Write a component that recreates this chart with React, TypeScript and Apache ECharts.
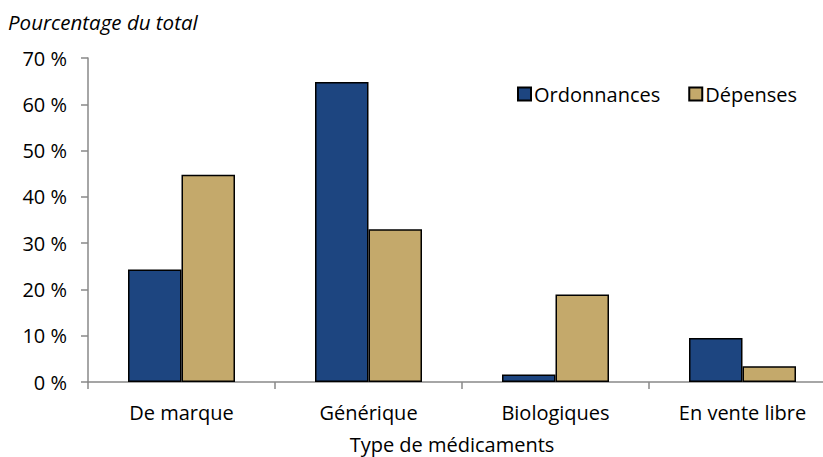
import React, { useEffect, useRef } from "react";
import * as echarts from "echarts";

const categories = ["De marque", "Générique", "Biologiques", "En vente libre"];
const ordonnances = [24.3, 64.8, 1.6, 9.5];
const depenses = [44.8, 33.0, 18.9, 3.4];
const seriesNames = ["Ordonnances", "Dépenses"];
const yTitle = "Pourcentage du total";
const xTitle = "Type de médicaments";

const FONT = "'Open Sans', 'Noto Sans', sans-serif";
const FS = 20;

export default function App() {
  const ref = useRef<HTMLDivElement>(null);
  useEffect(() => {
    if (!ref.current) return;
    const chart = echarts.init(ref.current, null, { renderer: "svg" });
    chart.setOption({
      animation: false,
      textStyle: { fontFamily: FONT },
      graphic: [
        {
          type: "text",
          x: 8,
          y: 22,
          style: {
            text: yTitle,
            font: `italic 20.5px ${FONT}`,
            fill: "#000",
            textAlign: "left",
            textVerticalAlign: "middle",
          },
        },
        {
          type: "text",
          x: 452,
          y: 444,
          style: {
            text: xTitle,
            font: `${FS}px ${FONT}`,
            fill: "#000",
            textAlign: "center",
            textVerticalAlign: "middle",
          },
        },
      ],
      legend: {
        left: 512,
        top: 79,
        itemWidth: 13,
        itemHeight: 13,
        itemGap: 28,
        icon: "rect",
        textStyle: { fontSize: FS, color: "#000", fontFamily: FONT, padding: [0, 0, 0, -2] },
        data: seriesNames,
      },
      grid: { left: 88, right: -13, top: 58, bottom: 75, outerBoundsMode: "none", containLabel: false },
      xAxis: {
        type: "category",
        data: categories,
        axisLine: { lineStyle: { color: "#888", width: 1.5 } },
        axisTick: { show: true, length: 7, lineStyle: { color: "#888", width: 1.5 } },
        axisLabel: { fontSize: FS, color: "#000", margin: 20, fontFamily: FONT },
      },
      yAxis: {
        type: "value",
        min: 0,
        max: 70,
        interval: 10,
        axisLine: { show: true, lineStyle: { color: "#888", width: 1.5 } },
        axisTick: { show: true, length: 7, lineStyle: { color: "#888", width: 1.5 } },
        splitLine: { show: false },
        axisLabel: {
          fontSize: FS,
          color: "#000",
          margin: 21,
          fontFamily: FONT,
          formatter: (v: number) => `${v} %`,
        },
      },
      series: [
        {
          name: seriesNames[0],
          type: "bar",
          data: ordonnances,
          barWidth: 53.5,
          barGap: "0%",
          itemStyle: { color: "#1D4580", borderColor: "#000", borderWidth: 1.5 },
        },
        {
          name: seriesNames[1],
          type: "bar",
          data: depenses,
          barWidth: 53.5,
          barGap: "0%",
          itemStyle: { color: "#C4A96B", borderColor: "#000", borderWidth: 1.5 },
        },
      ],
    });
    return () => chart.dispose();
  }, []);
  return <div ref={ref} style={{ width: 823, height: 457, position: "absolute", left: 0, top: 0 }} />;
}
